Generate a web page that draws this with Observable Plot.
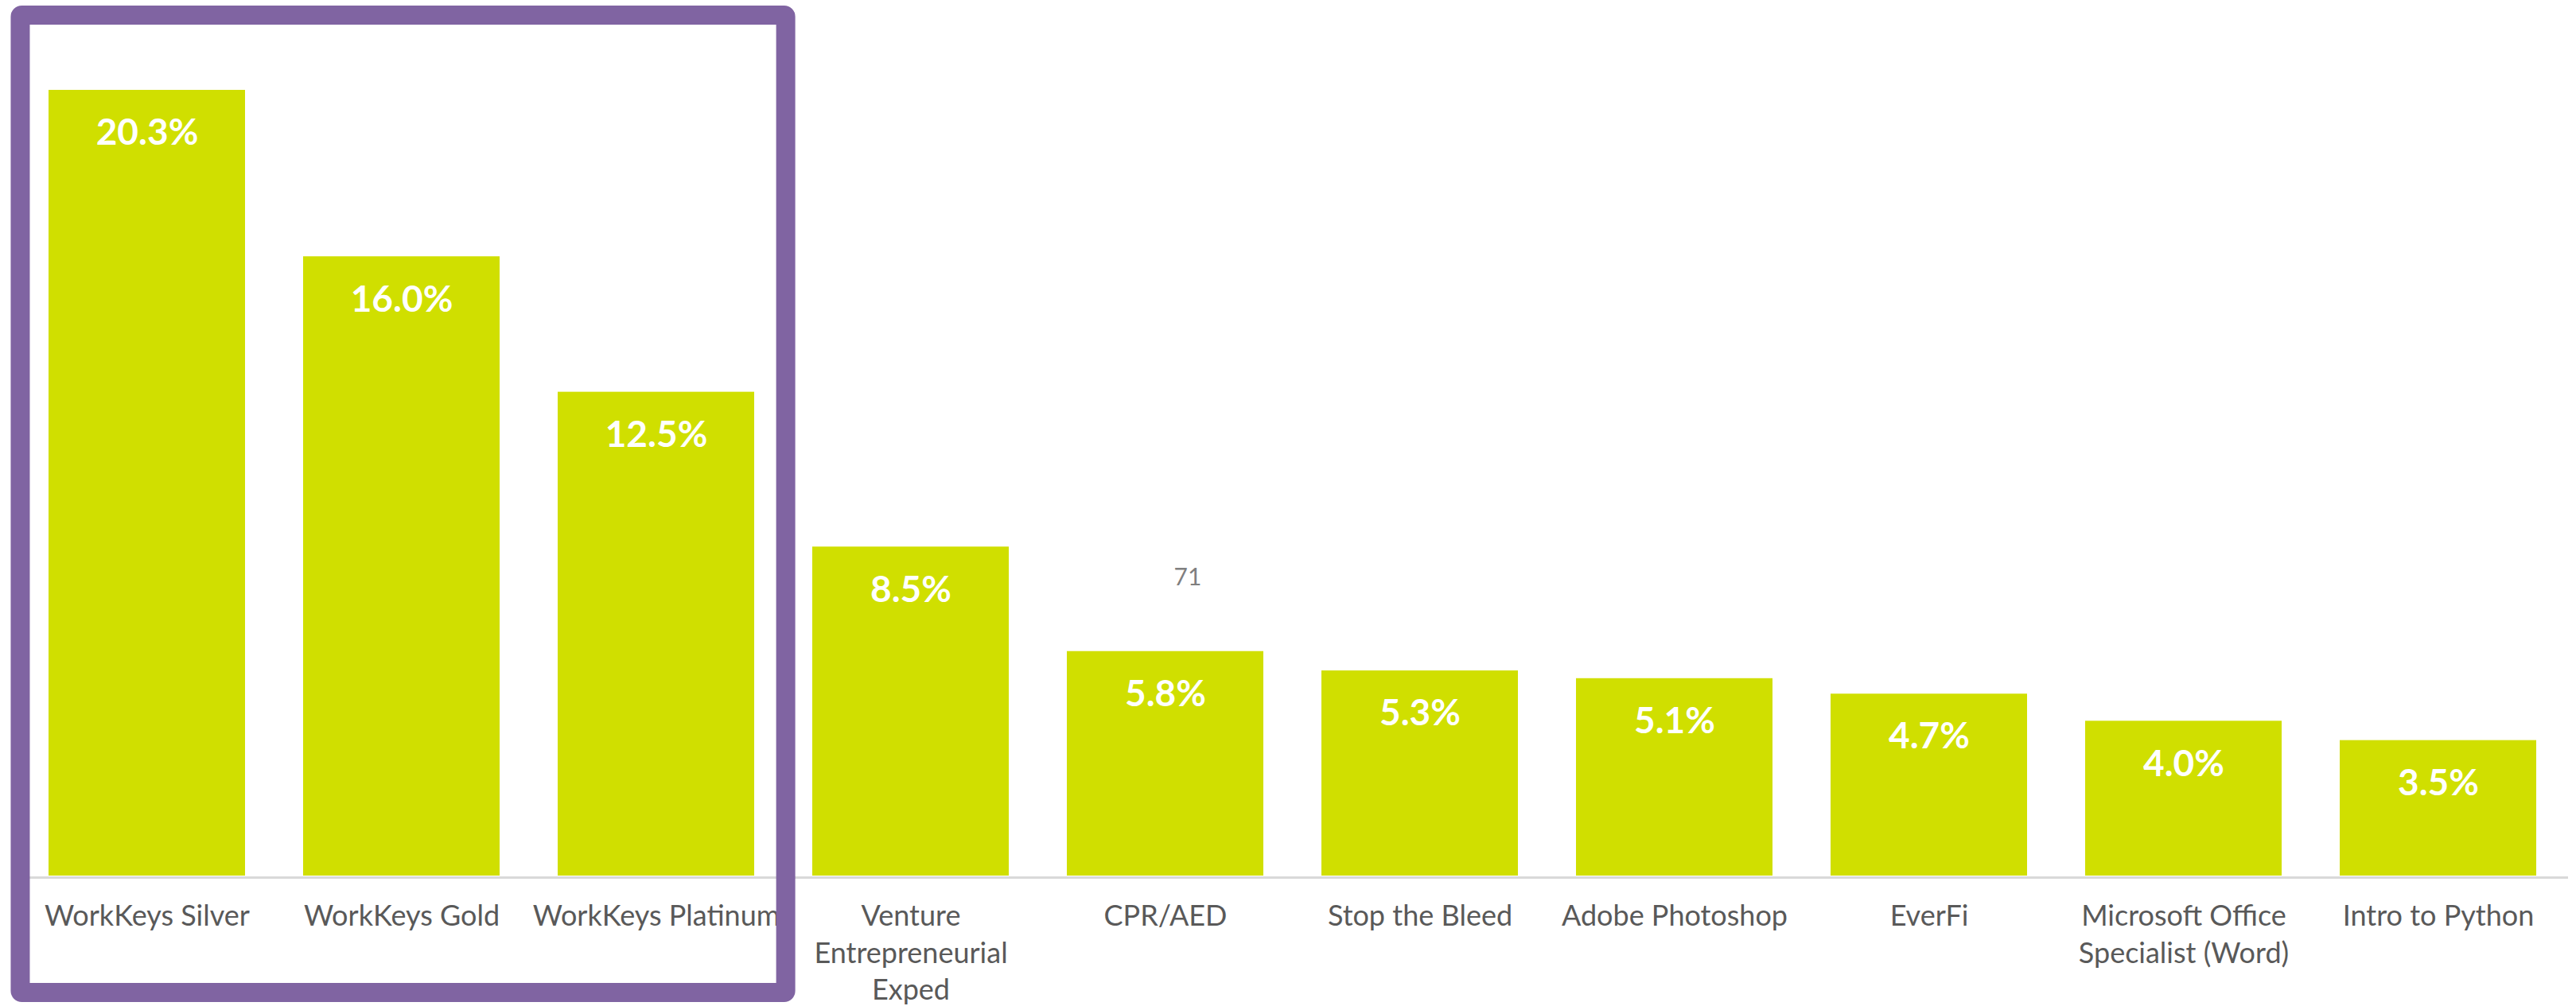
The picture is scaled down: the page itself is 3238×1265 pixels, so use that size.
<!DOCTYPE html>
<html>
<head>
<meta charset="utf-8">
<script src="https://cdn.jsdelivr.net/npm/d3@7"></script>
<script src="https://cdn.jsdelivr.net/npm/@observablehq/plot@0.6"></script>
<style>
  html, body { margin: 0; padding: 0; background: #fff; }
  #chart svg { display: block; }
</style>
</head>
<body>
<div id="chart"></div>
<script>
// ---- data ----
const categories = [
  "WorkKeys Silver", "WorkKeys Gold", "WorkKeys Platinum",
  "Venture Entrepreneurial Exped", "CPR/AED", "Stop the Bleed",
  "Adobe Photoshop", "EverFi", "Microsoft Office Specialist (Word)", "Intro to Python"
];
const tickLabels = [
  "WorkKeys Silver", "WorkKeys Gold", "WorkKeys Platinum",
  "Venture\nEntrepreneurial\nExped", "CPR/AED", "Stop the Bleed",
  "Adobe Photoshop", "EverFi", "Microsoft Office\nSpecialist (Word)", "Intro to Python"
];
const shares = [20.3, 16.0, 12.5, 8.5, 5.8, 5.3, 5.1, 4.7, 4.0, 3.5];
const highlighted = ["WorkKeys Silver", "WorkKeys Gold", "WorkKeys Platinum"];
const annotations = [{ category: "CPR/AED", value: 7.7, label: "71" }];

// ---- build ----
(function () {
const data = categories.map((c, i) => ({ category: c, value: shares[i] }));
const labelOf = new Map(categories.map((c, i) => [c, tickLabels[i]]));

const W = 3238, H = 1265;
const chart = Plot.plot({
  width: W,
  height: H,
  marginTop: 113,
  marginBottom: 164,
  marginLeft: 21,
  marginRight: 10,
  style: { background: "#fff", fontFamily: "Lato, 'Open Sans', sans-serif", overflow: "visible" },
  x: { domain: categories, paddingInner: 0.227, paddingOuter: 0.1135, axis: null, label: null },
  y: { domain: [0, d3.max(shares)], axis: null },
  marks: [
    Plot.ruleY([0], { stroke: "#d9d9d9", strokeWidth: 3, dy: 2 }),
    Plot.barY(data, { x: "category", y: "value", fill: "#d0df00" }),
    Plot.text(data, {
      x: "category", y: "value",
      text: d => d.value.toFixed(1) + "%",
      dy: 54, fill: "#ffffff", fontSize: 46, fontWeight: "bold", lineAnchor: "middle"
    }),
    Plot.axisX({
      tickSize: 0, tickPadding: 29, tickFormat: c => labelOf.get(c),
      fontSize: 36, lineHeight: 1.3, color: "#595959", label: null
    }),
    Plot.text(annotations, {
      x: "category", y: "value", text: "label",
      dx: 28, fontSize: 30, fill: "#7f7f7f", lineAnchor: "middle"
    })
  ]
});

document.getElementById("chart").appendChild(chart);

// ---- highlight box around the WorkKeys group, positioned with the x scale ----
const sx = chart.scale("x");
const band = d3.scaleBand()
  .domain(sx.domain)
  .range(sx.range)
  .paddingInner(sx.paddingInner)
  .paddingOuter(sx.paddingOuter)
  .align(sx.align ?? 0.5);
const step = band.step();
const sw = 24;
const boxLeft = band(highlighted[0]) - 0.137 * step;
const boxRight = band(highlighted[highlighted.length - 1]) + band.bandwidth() + 0.165 * step;
const boxTop = 7, boxBottom = H - 5;
d3.select(chart).append("rect")
  .attr("x", boxLeft + sw / 2)
  .attr("y", boxTop + sw / 2)
  .attr("width", boxRight - boxLeft - sw)
  .attr("height", boxBottom - boxTop - sw)
  .attr("rx", 2)
  .attr("fill", "none")
  .attr("stroke", "#8064a2")
  .attr("stroke-width", sw);
})();
</script>
</body>
</html>
